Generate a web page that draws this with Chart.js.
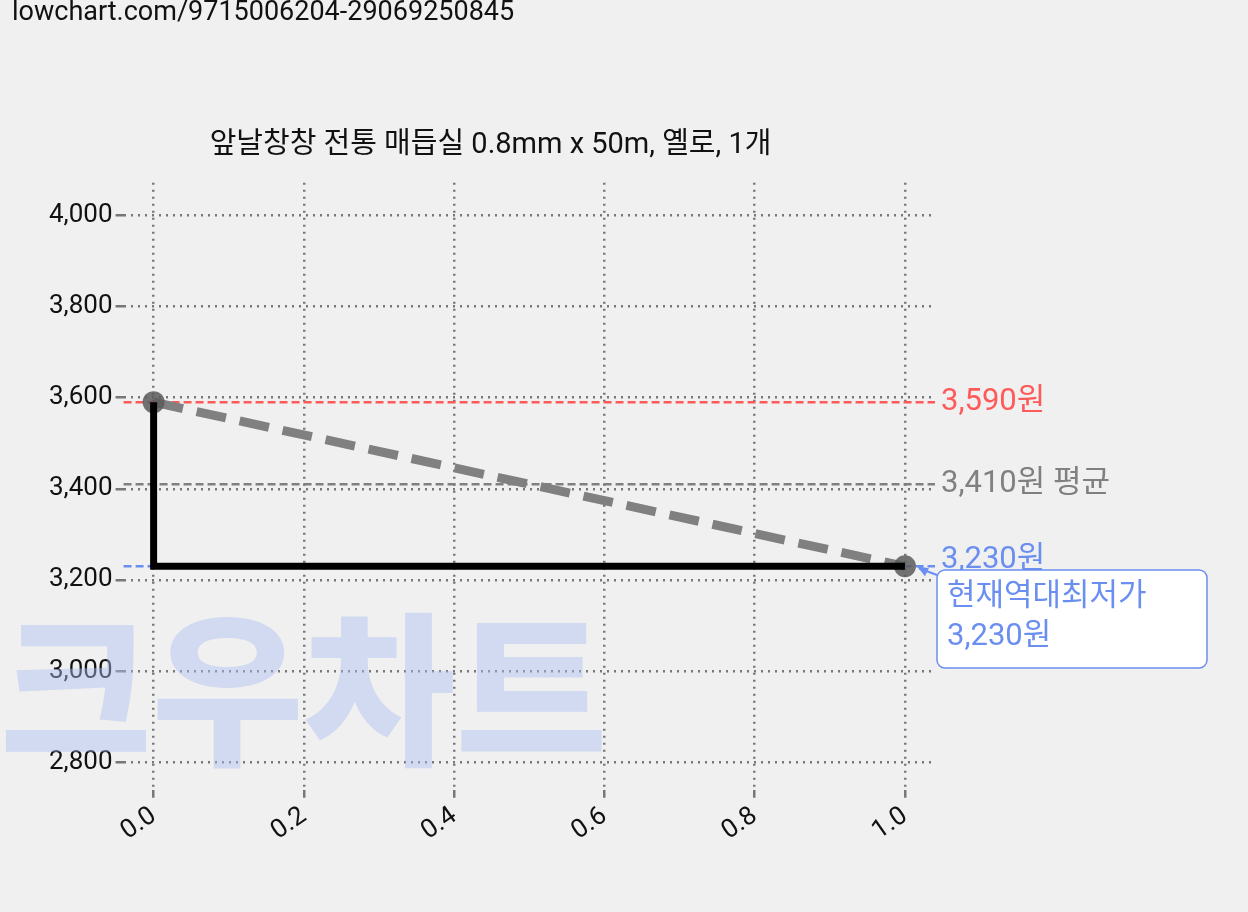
<!DOCTYPE html>
<html><head><meta charset="utf-8">
<script src="https://cdn.jsdelivr.net/npm/chart.js@4.4.1/dist/chart.umd.min.js"></script>
<style>html,body{margin:0;background:#f0f0f0}#w{width:1248px;height:912px}</style>
</head><body><div id="w"><canvas id="c"></canvas></div>
<script>
const title = '앞날창창 전통 매듭실 0.8mm x 50m, 옐로, 1개';
const urlText = 'lowchart.com/9715006204-29069250845';
const stepX = [0, 0, 1];
const stepY = [3590, 3230, 3230];
const trendX = [0, 1];
const trendY = [3590, 3230];
const maxPrice = 3590, avgPrice = 3410, minPrice = 3230;
const xTicks = [0, 0.2, 0.4, 0.6, 0.8, 1.0];
const yTicks = [2800, 3000, 3200, 3400, 3600, 3800, 4000];
const F = 'Roboto, "Noto Sans CJK KR", sans-serif';

const deco = {
  id: 'deco',
  beforeDatasetsDraw(ch) {
    const c = ch.ctx, a = ch.chartArea;
    c.save();
    c.fillStyle = 'rgba(170,190,240,0.45)';
    c.font = '900 165px "Noto Sans CJK KR"';
    c.textBaseline = 'alphabetic';
    c.fillText('크우차트', 0, 752);
    const y = ch.scales.y;
    [[maxPrice, '#ff5a5a'], [avgPrice, '#808080'], [minPrice, '#6a8ff0']].forEach(([v, col]) => {
      const py = y.getPixelForValue(v);
      c.strokeStyle = col; c.lineWidth = 2.5; c.setLineDash([8, 4]);
      c.beginPath(); c.moveTo(a.left, py); c.lineTo(a.right, py); c.stroke();
    });
    c.restore();
  },
  afterDraw(ch) {
    const c = ch.ctx, a = ch.chartArea, y = ch.scales.y;
    c.save();
    c.font = '27px ' + F; c.fillStyle = '#111'; c.textBaseline = 'top';
    c.fillText(urlText, 12, 0);
    c.font = '31px ' + F; c.textBaseline = 'middle';
    c.fillStyle = '#ff5a5a'; c.fillText(maxPrice.toLocaleString() + '원', a.right + 6, y.getPixelForValue(maxPrice));
    c.fillStyle = '#808080'; c.fillText(avgPrice.toLocaleString() + '원 평균', a.right + 6, y.getPixelForValue(avgPrice));
    c.fillStyle = '#6a8ff0'; c.fillText(minPrice.toLocaleString() + '원', a.right + 6, y.getPixelForValue(minPrice) - 6);
    const bx = 937, by = 570, bw = 270, bh = 98;
    c.fillStyle = '#fff'; c.strokeStyle = '#6a8ff0'; c.lineWidth = 1.5;
    c.beginPath(); c.roundRect(bx, by, bw, bh, 8); c.fill(); c.stroke();
    c.fillStyle = '#6a8ff0'; c.textBaseline = 'middle';
    c.fillText('현재역대최저가', bx + 10, by + 27);
    c.fillText(minPrice.toLocaleString() + '원', bx + 10, by + 67);
    const px = ch.scales.x.getPixelForValue(1), py = y.getPixelForValue(minPrice);
    c.strokeStyle = '#6a8ff0'; c.lineWidth = 2;
    c.beginPath(); c.moveTo(bx, by + 5); c.lineTo(px + 14, py + 2); c.stroke();
    c.beginPath(); c.moveTo(px + 12, py); c.lineTo(px + 24, py + 2); c.lineTo(px + 20, py + 10); c.closePath();
    c.fillStyle = '#6a8ff0'; c.fill();
    c.restore();
  }
};

new Chart(document.getElementById('c'), {
  type: 'scatter',
  data: { datasets: [
    { data: trendX.map((x, i) => ({x, y: trendY[i]})), showLine: true, borderColor: '#808080', borderWidth: 9,
      borderDash: [30, 14], pointRadius: 11, pointBackgroundColor: 'rgba(90,90,90,0.85)', pointBorderWidth: 0, order: 2 },
    { data: stepX.map((x, i) => ({x, y: stepY[i]})), showLine: true, borderColor: '#000', borderWidth: 7,
      pointRadius: 0, order: 1 }
  ]},
  options: {
    responsive: true, maintainAspectRatio: false, animation: false,
    layout: { padding: { left: 46, right: 313, top: 20, bottom: 62 } },
    plugins: { legend: { display: false }, tooltip: { enabled: false },
      title: { display: true, text: title, font: { family: F, size: 29, weight: 'normal' }, color: '#111', padding: { top: 108, bottom: 20 } } },
    scales: {
      x: { type: 'linear', min: -0.04, max: 1.04, border: { display: false, dash: [2, 5] },
        afterBuildTicks: s => { s.ticks = xTicks.map(v => ({value: v})); },
        grid: { color: '#777', lineWidth: 2.5, tickLength: 8 },
        ticks: { font: { family: F, size: 26 }, color: '#111', maxRotation: 35, minRotation: 35, callback: v => v.toFixed(1) } },
      y: { min: 2740, max: 4071, border: { display: false, dash: [2, 5] },
        afterBuildTicks: s => { s.ticks = yTicks.map(v => ({value: v})); },
        grid: { color: '#777', lineWidth: 2.5, tickLength: 8 },
        ticks: { font: { family: F, size: 26 }, color: '#111', callback: v => v.toLocaleString() } }
    }
  },
  plugins: [deco]
});
</script></body></html>
